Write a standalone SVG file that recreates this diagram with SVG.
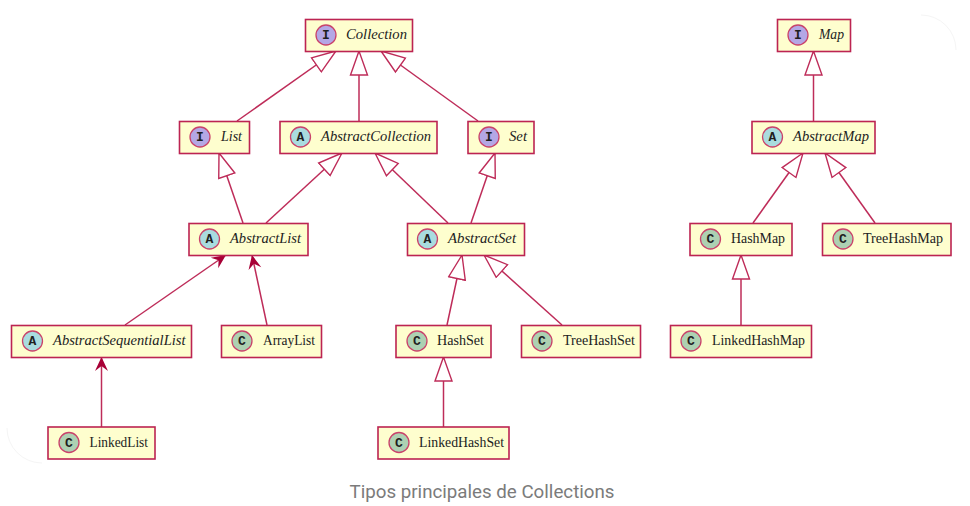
<svg xmlns="http://www.w3.org/2000/svg" width="970" height="506" viewBox="0 0 970 506">
<style>
.box{fill:#FEFECE;stroke:#BC2452;stroke-width:1.6}
.ci{stroke:#C9436B;stroke-width:1.3}
.I{fill:#B4A7E5}.A{fill:#A9DCDF}.C{fill:#ADD1B2}
.g{font:bold 13px "Liberation Mono",monospace;fill:#1f1f1f;text-anchor:middle}
.n{font:14px "Liberation Serif",serif;fill:#222}
.i{font-style:italic}
.e{fill:none;stroke:#BE2C59;stroke-width:1.5}
.h{marker-end:url(#hollow)}
.o{marker-end:url(#open)}
.cap{font:18px Roboto,sans-serif;fill:#7b7b7b}
</style>
<defs>
<marker id="hollow" markerUnits="userSpaceOnUse" markerWidth="28" markerHeight="22" refX="25" refY="10" orient="auto" viewBox="0 0 28 20"><path d="M25 10L1 1.5V18.5Z" fill="#fff" stroke="#BE2C59" stroke-width="1.4"/></marker>
<marker id="open" markerUnits="userSpaceOnUse" markerWidth="18" markerHeight="16" refX="16" refY="8" orient="auto" viewBox="0 0 18 16"><path d="M16 8L2 1.5L7 8L2 14.5Z" fill="#A80036"/></marker>
</defs>
<rect width="970" height="506" fill="#fff"/>
<path d="M7 428a35 35 0 0 0 35 35M921 15a35 35 0 0 1 35 35" fill="none" stroke="#f5f5f5"/>
<g id="connectors">
<path class="e h" d="M237 121L336 51"/>
<path class="e h" d="M359 121V51"/>
<path class="e h" d="M478 121L381 51"/>
<path class="e h" d="M243 223L219 153"/>
<path class="e h" d="M266 223L342 153"/>
<path class="e h" d="M448 223L375 153"/>
<path class="e h" d="M471 223L495 153"/>
<path class="e h" d="M447 325L462 255"/>
<path class="e h" d="M562 325L484 255"/>
<path class="e h" d="M443.500 427V357"/>
<path class="e o" d="M125 325L226 255"/>
<path class="e o" d="M267 325L252 255"/>
<path class="e o" d="M101.500 427V357"/>
<path class="e h" d="M813.500 121V51"/>
<path class="e h" d="M753 223L803 153"/>
<path class="e h" d="M875 223L825 153"/>
<path class="e h" d="M741 325V255"/>
</g>
<g id="Collection"><rect class="box" x="305.500" y="19.500" width="107" height="32"/><circle class="ci I" cx="326" cy="35" r="10"/><text class="g" x="326" y="39">I</text><text class="n i" x="346" y="39" textLength="61" lengthAdjust="spacingAndGlyphs">Collection</text></g>
<g id="List"><rect class="box" x="179.500" y="121.500" width="70" height="32"/><circle class="ci I" cx="200" cy="137" r="10"/><text class="g" x="200" y="141">I</text><text class="n i" x="221" y="141" textLength="21" lengthAdjust="spacingAndGlyphs">List</text></g>
<g id="AbstractCollection"><rect class="box" x="280" y="121.500" width="157" height="32"/><circle class="ci A" cx="300.500" cy="137" r="10"/><text class="g" x="300.500" y="141">A</text><text class="n i" x="321" y="141" textLength="110" lengthAdjust="spacingAndGlyphs">AbstractCollection</text></g>
<g id="Set"><rect class="box" x="468" y="121.500" width="66" height="32"/><circle class="ci I" cx="489" cy="137" r="10"/><text class="g" x="489" y="141">I</text><text class="n i" x="509" y="141" textLength="18" lengthAdjust="spacingAndGlyphs">Set</text></g>
<g id="AbstractList"><rect class="box" x="189" y="223.500" width="119" height="32"/><circle class="ci A" cx="209.500" cy="239" r="10"/><text class="g" x="209.500" y="243">A</text><text class="n i" x="230" y="243" textLength="71" lengthAdjust="spacingAndGlyphs">AbstractList</text></g>
<g id="AbstractSet"><rect class="box" x="407.500" y="223.500" width="117" height="32"/><circle class="ci A" cx="427.500" cy="239" r="10"/><text class="g" x="427.500" y="243">A</text><text class="n i" x="448" y="243" textLength="68" lengthAdjust="spacingAndGlyphs">AbstractSet</text></g>
<g id="AbstractSequentialList"><rect class="box" x="11.500" y="325.500" width="180" height="32"/><circle class="ci A" cx="32.500" cy="341" r="10"/><text class="g" x="32.500" y="345">A</text><text class="n i" x="53" y="345" textLength="132.500" lengthAdjust="spacingAndGlyphs">AbstractSequentialList</text></g>
<g id="ArrayList"><rect class="box" x="221.500" y="325.500" width="100" height="32"/><circle class="ci C" cx="242" cy="341" r="10"/><text class="g" x="242" y="345">C</text><text class="n" x="263" y="345" textLength="52" lengthAdjust="spacingAndGlyphs">ArrayList</text></g>
<g id="LinkedList"><rect class="box" x="48" y="427" width="107" height="32"/><circle class="ci C" cx="69" cy="442.500" r="10"/><text class="g" x="69" y="446.500">C</text><text class="n" x="89.500" y="446.500" textLength="58.500" lengthAdjust="spacingAndGlyphs">LinkedList</text></g>
<g id="HashSet"><rect class="box" x="396" y="325.500" width="95" height="32"/><circle class="ci C" cx="417" cy="341" r="10"/><text class="g" x="417" y="345">C</text><text class="n" x="437" y="345" textLength="47" lengthAdjust="spacingAndGlyphs">HashSet</text></g>
<g id="TreeHashSet"><rect class="box" x="521.500" y="325.500" width="119" height="32"/><circle class="ci C" cx="542" cy="341" r="10"/><text class="g" x="542" y="345">C</text><text class="n" x="563" y="345" textLength="72" lengthAdjust="spacingAndGlyphs">TreeHashSet</text></g>
<g id="LinkedHashSet"><rect class="box" x="378" y="427" width="131" height="32"/><circle class="ci C" cx="399" cy="442.500" r="10"/><text class="g" x="399" y="446.500">C</text><text class="n" x="419" y="446.500" textLength="85" lengthAdjust="spacingAndGlyphs">LinkedHashSet</text></g>
<g id="Map"><rect class="box" x="777.500" y="19.500" width="73" height="32"/><circle class="ci I" cx="798" cy="35" r="10"/><text class="g" x="798" y="39">I</text><text class="n i" x="819" y="39" textLength="25" lengthAdjust="spacingAndGlyphs">Map</text></g>
<g id="AbstractMap"><rect class="box" x="752" y="121.500" width="123" height="32"/><circle class="ci A" cx="772.500" cy="137" r="10"/><text class="g" x="772.500" y="141">A</text><text class="n i" x="793" y="141" textLength="76" lengthAdjust="spacingAndGlyphs">AbstractMap</text></g>
<g id="HashMap"><rect class="box" x="690" y="223.500" width="102" height="32"/><circle class="ci C" cx="710.500" cy="239" r="10"/><text class="g" x="710.500" y="243">C</text><text class="n" x="731" y="243" textLength="54" lengthAdjust="spacingAndGlyphs">HashMap</text></g>
<g id="TreeHashMap"><rect class="box" x="822.500" y="223.500" width="128.500" height="32"/><circle class="ci C" cx="843" cy="239" r="10"/><text class="g" x="843" y="243">C</text><text class="n" x="863" y="243" textLength="80" lengthAdjust="spacingAndGlyphs">TreeHashMap</text></g>
<g id="LinkedHashMap"><rect class="box" x="670.500" y="325.500" width="141" height="32"/><circle class="ci C" cx="691" cy="341" r="10"/><text class="g" x="691" y="345">C</text><text class="n" x="712" y="345" textLength="93" lengthAdjust="spacingAndGlyphs">LinkedHashMap</text></g>
<text class="cap" x="349.500" y="498" textLength="265" lengthAdjust="spacingAndGlyphs">Tipos principales de Collections</text>
</svg>
